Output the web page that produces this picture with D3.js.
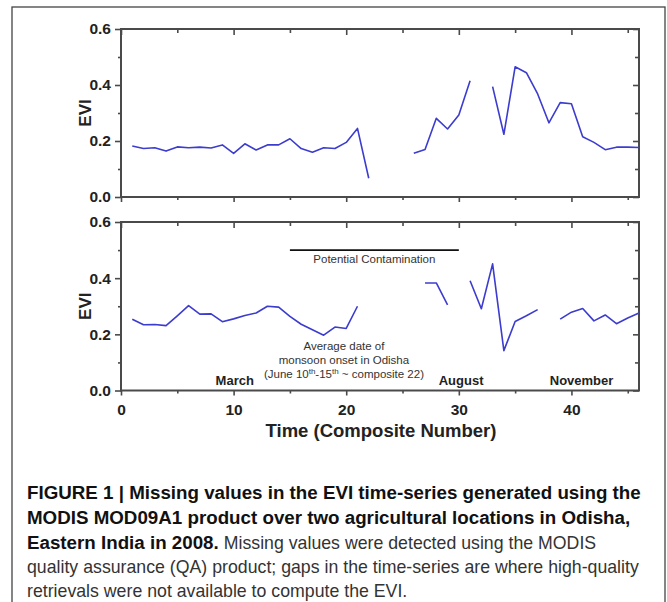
<!DOCTYPE html>
<html><head><meta charset="utf-8">
<script src="https://cdn.jsdelivr.net/npm/d3@7"></script>
<style>body{margin:0;background:#fff}svg{display:block}</style>
</head><body>
<svg id="c" width="667" height="602"></svg>
<script>
// ---- data ----
const composites = d3.range(1, 47);
const eviTop = [0.182,0.173,0.176,0.164,0.179,0.176,0.178,0.175,0.186,0.156,
  0.190,0.168,0.186,0.186,0.208,0.173,0.160,0.176,0.173,0.195,
  0.245,0.067,null,null,null,0.156,0.170,0.281,0.243,0.293,
  0.415,null,0.394,0.224,0.465,0.444,0.368,0.265,0.337,0.333,
  0.215,0.195,0.169,0.178,0.178,0.177];
const eviBottom = [0.254,0.234,0.235,0.231,0.266,0.302,0.272,0.273,0.245,0.255,
  0.267,0.276,0.300,0.297,0.264,0.236,0.216,0.197,0.226,0.221,
  0.300,null,null,null,null,null,0.383,0.383,0.305,null,
  0.391,0.291,0.451,0.142,0.246,0.266,0.288,null,0.254,0.279,
  0.292,0.248,0.269,0.238,0.258,0.276];
const xMajorTicks = [0, 10, 20, 30, 40];
const xMinorTicks = [5, 15, 25, 35, 45];
const yMajorTicks = [0, 0.2, 0.4, 0.6];
const yMinorTicks = [0.1, 0.3, 0.5];
const monthLabels = ["March", "August", "November"];
const monthPositions = [10.1, 30.2, 40.9];
const contaminationRange = [15, 30];
const contaminationLevel = 0.5;
const contaminationLabel = "Potential Contamination";
const onsetLines = ["Average date of", "monsoon onset in Odisha"];
const onsetComposite = 19.8;
const xTitle = "Time (Composite Number)";
const yTitle = "EVI";
const captionLines = [
  [{t:"FIGURE 1 | Missing values in the EVI time-series generated using the", b:true}],
  [{t:"MODIS MOD09A1 product over two agricultural locations in Odisha,", b:true}],
  [{t:"Eastern India in 2008.", b:true},{t:" Missing values were detected using the MODIS", b:false}],
  [{t:"quality assurance (QA) product; gaps in the time-series are where high-quality", b:false}],
  [{t:"retrievals were not available to compute the EVI.", b:false}]
];

// ---- layout ----
const svg = d3.select("#c");
const W = 667, H = 602;
const left = 121, right = 639;
const panels = [{top: 29, bottom: 197, data: eviTop, labels: false},
                {top: 222, bottom: 390.5, data: eviBottom, labels: true}];
const axisColor = "#4a4a4a";
const lineColor = "#3c3ccf";
const font = "'Liberation Sans', Arial, sans-serif";

svg.append("rect").attr("x",0).attr("y",0).attr("width",W).attr("height",H).attr("fill","#fff");
svg.append("rect").attr("x",12).attr("y",7).attr("width",653).attr("height",640)
  .attr("fill","none").attr("stroke","#444").attr("stroke-width",1.3);

const x = d3.scaleLinear().domain([0, 46]).range([left, right]);

function styleAxis(g){
  g.select(".domain").remove();
  g.selectAll(".tick line").attr("stroke", axisColor).attr("stroke-width", 1.6);
  g.selectAll(".tick text").attr("fill","#222").attr("font-family",font)
    .attr("font-weight","bold").attr("font-size",15.5);
}

panels.forEach((p, i) => {
  const y = d3.scaleLinear().domain([0, 0.6]).range([p.bottom, p.top]);
  const g = svg.append("g");
  // minor ticks
  g.append("g").attr("transform",`translate(${left},0)`)
    .call(d3.axisLeft(y).tickValues(yMinorTicks).tickSize(3).tickFormat("")).call(styleAxis);
  g.append("g").attr("transform",`translate(${right},0)`)
    .call(d3.axisRight(y).tickValues(yMinorTicks).tickSize(-4).tickFormat("")).call(styleAxis);
  g.append("g").attr("transform",`translate(0,${p.bottom})`)
    .call(d3.axisBottom(x).tickValues(xMinorTicks).tickSize(3).tickFormat("")).call(styleAxis);
  g.append("g").attr("transform",`translate(0,${p.top})`)
    .call(d3.axisTop(x).tickValues(xMinorTicks).tickSize(-4).tickFormat("")).call(styleAxis);
  // major ticks
  g.append("g").attr("transform",`translate(${left},0)`)
    .call(d3.axisLeft(y).tickValues(yMajorTicks).tickSize(6).tickPadding(4).tickFormat(d3.format(".1f"))).call(styleAxis);
  g.append("g").attr("transform",`translate(${right},0)`)
    .call(d3.axisRight(y).tickValues(yMajorTicks).tickSize(-6).tickFormat("")).call(styleAxis);
  g.append("g").attr("transform",`translate(0,${p.bottom})`)
    .call(d3.axisBottom(x).tickValues(xMajorTicks).tickSize(5).tickPadding(8)
      .tickFormat(p.labels ? d3.format("d") : "")).call(styleAxis);
  g.append("g").attr("transform",`translate(0,${p.top})`)
    .call(d3.axisTop(x).tickValues(xMajorTicks).tickSize(-6).tickFormat("")).call(styleAxis);
  // frame
  g.append("rect").attr("x",left).attr("y",p.top).attr("width",right-left).attr("height",p.bottom-p.top)
    .attr("fill","none").attr("stroke",axisColor).attr("stroke-width",2);
  // line
  const line = d3.line().defined(d => d[1] != null).x(d => x(d[0])).y(d => y(d[1]));
  g.append("path").datum(composites.map((c, j) => [c, p.data[j]]))
    .attr("d", line).attr("fill","none").attr("stroke",lineColor).attr("stroke-width",1.6)
    .attr("stroke-linejoin","round");
  // y title
  g.append("text").attr("transform",`translate(91,${(p.top+p.bottom)/2}) rotate(-90)`)
    .attr("text-anchor","middle").attr("font-family",font).attr("font-weight","bold")
    .attr("font-size",17).attr("fill","#222").text(yTitle);
  if (p.labels) {
    // contamination bar
    g.append("line").attr("x1",x(contaminationRange[0])).attr("x2",x(contaminationRange[1]))
      .attr("y1",y(contaminationLevel)).attr("y2",y(contaminationLevel))
      .attr("stroke","#111").attr("stroke-width",1.6);
    g.append("text").attr("x",x(d3.mean(contaminationRange))).attr("y",y(contaminationLevel)+13)
      .attr("text-anchor","middle").attr("font-family",font).attr("font-size",11.5).attr("fill","#333")
      .text(contaminationLabel);
    // onset note
    const cx = x(onsetComposite);
    onsetLines.forEach((t, k) => {
      g.append("text").attr("x",cx).attr("y",350 + k*13.5).attr("text-anchor","middle")
        .attr("font-family",font).attr("font-size",11.5).attr("fill","#333").text(t);
    });
    const t3 = g.append("text").attr("x",cx).attr("y",378).attr("text-anchor","middle")
      .attr("font-family",font).attr("font-size",11.5).attr("fill","#333");
    t3.append("tspan").text("(June 10");
    t3.append("tspan").attr("font-size",8).attr("dy",-4).text("th");
    t3.append("tspan").attr("dy",4).text("-15");
    t3.append("tspan").attr("font-size",8).attr("dy",-4).text("th");
    t3.append("tspan").attr("dy",4).text(" ~ composite 22)");
    // months
    monthLabels.forEach((m, k) => {
      g.append("text").attr("x",x(monthPositions[k])).attr("y",384.5).attr("text-anchor","middle")
        .attr("font-family",font).attr("font-weight","bold").attr("font-size",13).attr("fill","#222").text(m);
    });
    // x title
    g.append("text").attr("x",381).attr("y",437).attr("text-anchor","middle")
      .attr("font-family",font).attr("font-weight","bold").attr("font-size",18.5).attr("fill","#222").text(xTitle);
  }
});

// ---- caption (condensed by horizontal scaling) ----
const cap = svg.append("g");
const baselines = [499, 524, 549, 573.5, 597.5];
const capSize = 18;
const capX = 27;
const texts = [];
captionLines.forEach((segs, i) => {
  segs.forEach(s => {
    const t = cap.append("text").attr("x",0).attr("y",baselines[i])
      .attr("font-family",font).attr("font-size",capSize)
      .attr("font-weight", s.b ? "bold" : "normal")
      .attr("fill", s.b ? "#111" : "#333").attr("xml:space","preserve")
      .style("white-space","pre").text(s.t);
    texts.push({node: t, bold: s.b, line: i, w: t.node().getComputedTextLength()});
  });
});
const wBold = texts.find(d => d.line === 0).w;
const wReg = texts.find(d => d.line === 3).w;
const fb = 614 / wBold, fr = 612 / wReg;
const offsets = {};
texts.forEach(d => {
  const f = d.bold ? fb : fr;
  const start = capX + (offsets[d.line] || 0);
  d.node.attr("transform", `translate(${start},0) scale(${f},1)`);
  offsets[d.line] = (offsets[d.line] || 0) + d.w * f;
});
</script>
</body></html>
